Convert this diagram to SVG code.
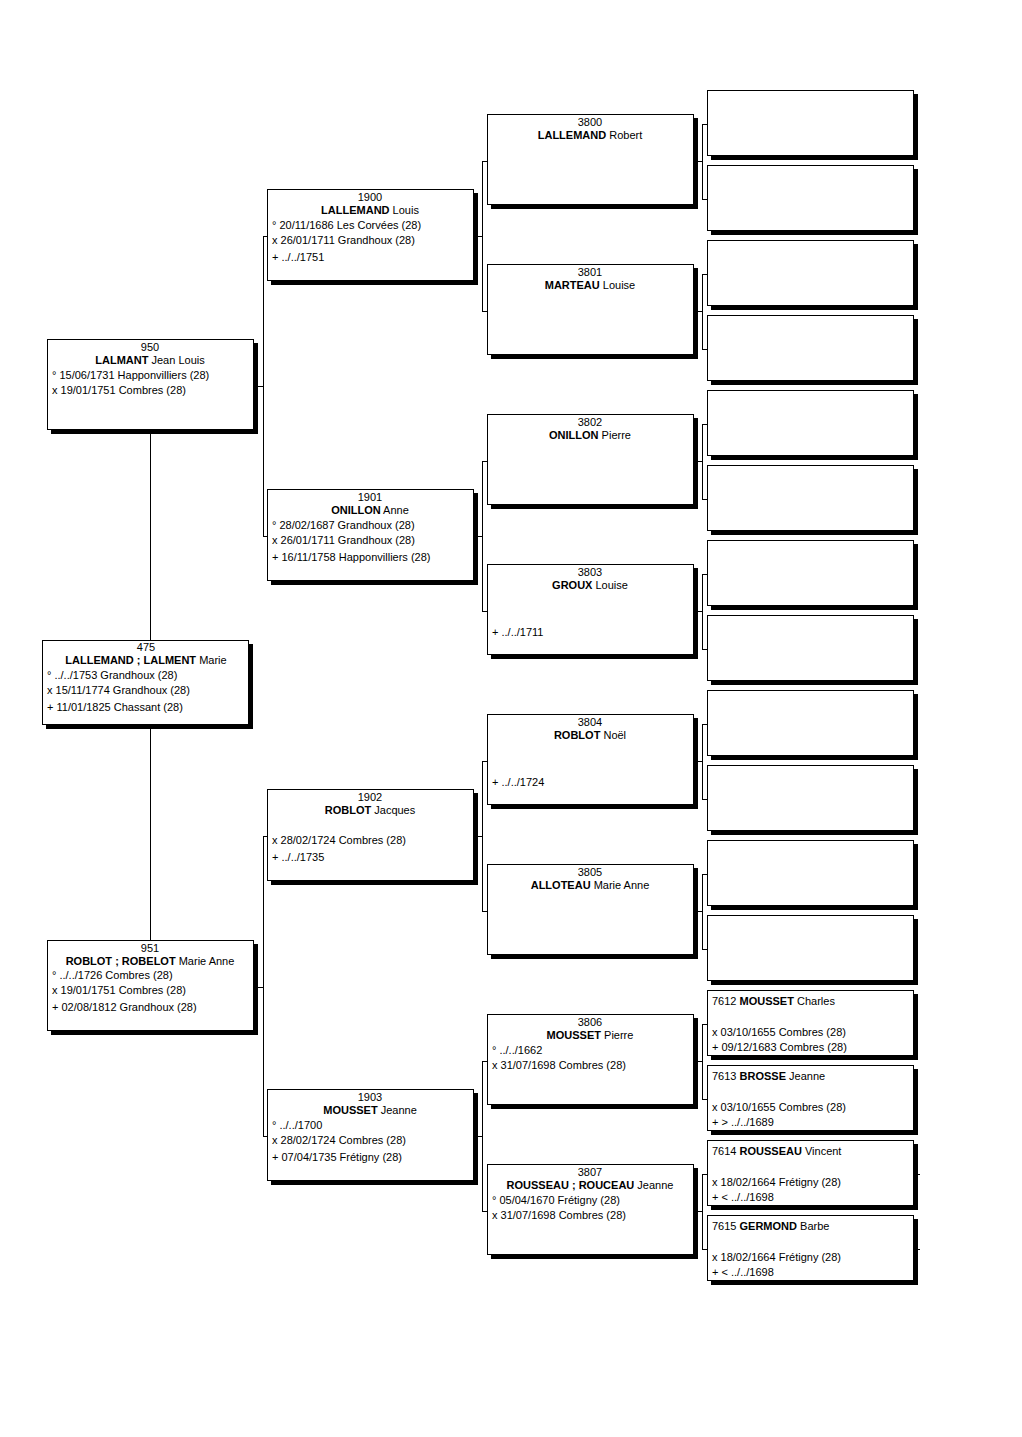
<svg xmlns="http://www.w3.org/2000/svg" width="1022" height="1437" viewBox="0 0 1022 1437">
<style>
.bg{fill:#fff}
.sh{fill:#000}
.bx{fill:#fff;stroke:#000;stroke-width:1}
.ln{fill:none;stroke:#000;stroke-width:1}
text{font-family:"Liberation Sans",Arial,sans-serif;font-size:11px;fill:#000}
.c{text-anchor:middle}
.b{font-weight:bold}
</style>
<rect class="bg" x="0" y="0" width="1022" height="1437"/>
<g id="connectors">
<path class="ln" d="M150.5 429V640M150.5 724V940"/>
<path class="ln" d="M253 386.5H263.5M263.5 236V537M263.5 236.5H267M263.5 536.5H267"/>
<path class="ln" d="M253 987.5H263.5M263.5 836V1137M263.5 836.5H267M263.5 1136.5H267"/>
<path class="ln" d="M473 236.5H482.5M482.5 161V312M482.5 161.5H487M482.5 311.5H487"/>
<path class="ln" d="M473 536.5H482.5M482.5 461V612M482.5 461.5H487M482.5 611.5H487"/>
<path class="ln" d="M473 836.5H482.5M482.5 761V912M482.5 761.5H487M482.5 911.5H487"/>
<path class="ln" d="M473 1136.5H482.5M482.5 1061V1212M482.5 1061.5H487M482.5 1211.5H487"/>
<path class="ln" d="M693 161.5H702.5M702.5 124V200M702.5 124.5H707M702.5 199.5H707"/>
<path class="ln" d="M693 311.5H702.5M702.5 274V350M702.5 274.5H707M702.5 349.5H707"/>
<path class="ln" d="M693 461.5H702.5M702.5 424V500M702.5 424.5H707M702.5 499.5H707"/>
<path class="ln" d="M693 611.5H702.5M702.5 574V650M702.5 574.5H707M702.5 649.5H707"/>
<path class="ln" d="M693 761.5H702.5M702.5 724V800M702.5 724.5H707M702.5 799.5H707"/>
<path class="ln" d="M693 911.5H702.5M702.5 874V950M702.5 874.5H707M702.5 949.5H707"/>
<path class="ln" d="M693 1061.5H702.5M702.5 1024V1100M702.5 1024.5H707M702.5 1099.5H707"/>
<path class="ln" d="M693 1211.5H702.5M702.5 1174V1250M702.5 1174.5H707M702.5 1249.5H707"/>
<path class="ln" d="M913 1174.5H920M913 1249.5H920"/>
</g>

<g id="n950">
<rect class="sh" x="51" y="343" width="207" height="91"/>
<rect class="bx" x="47.5" y="339.5" width="206" height="90"/>
<text class="c" x="150" y="351">950</text>
<text class="c" x="150" y="364"><tspan class="b">LALMANT</tspan> Jean Louis</text>
<text x="52" y="379">° 15/06/1731 Happonvilliers (28)</text>
<text x="52" y="394">x 19/01/1751 Combres (28)</text>
</g>
<g id="n475">
<rect class="sh" x="46" y="644" width="207" height="85"/>
<rect class="bx" x="42.5" y="640.5" width="206" height="84"/>
<text class="c" x="146" y="651">475</text>
<text class="c" x="146" y="664"><tspan class="b">LALLEMAND ; LALMENT</tspan> Marie</text>
<text x="47" y="679">° ../../1753 Grandhoux (28)</text>
<text x="47" y="694">x 15/11/1774 Grandhoux (28)</text>
<text x="47" y="711">+ 11/01/1825 Chassant (28)</text>
</g>
<g id="n951">
<rect class="sh" x="51" y="944" width="207" height="91"/>
<rect class="bx" x="47.5" y="940.5" width="206" height="90"/>
<text class="c" x="150" y="952">951</text>
<text class="c" x="150" y="965"><tspan class="b">ROBLOT ; ROBELOT</tspan> Marie Anne</text>
<text x="52" y="979">° ../../1726 Combres (28)</text>
<text x="52" y="994">x 19/01/1751 Combres (28)</text>
<text x="52" y="1011">+ 02/08/1812 Grandhoux (28)</text>
</g>

<g id="n1900">
<rect class="sh" x="271" y="193" width="207" height="92"/>
<rect class="bx" x="267.5" y="189.5" width="206" height="91"/>
<text class="c" x="370" y="201">1900</text>
<text class="c" x="370" y="214"><tspan class="b">LALLEMAND</tspan> Louis</text>
<text x="272" y="229">° 20/11/1686 Les Corvées (28)</text>
<text x="272" y="244">x 26/01/1711 Grandhoux (28)</text>
<text x="272" y="261">+ ../../1751</text>
</g>
<g id="n1901">
<rect class="sh" x="271" y="493" width="207" height="92"/>
<rect class="bx" x="267.5" y="489.5" width="206" height="91"/>
<text class="c" x="370" y="501">1901</text>
<text class="c" x="370" y="514"><tspan class="b">ONILLON</tspan> Anne</text>
<text x="272" y="529">° 28/02/1687 Grandhoux (28)</text>
<text x="272" y="544">x 26/01/1711 Grandhoux (28)</text>
<text x="272" y="561">+ 16/11/1758 Happonvilliers (28)</text>
</g>
<g id="n1902">
<rect class="sh" x="271" y="793" width="207" height="92"/>
<rect class="bx" x="267.5" y="789.5" width="206" height="91"/>
<text class="c" x="370" y="801">1902</text>
<text class="c" x="370" y="814"><tspan class="b">ROBLOT</tspan> Jacques</text>
<text x="272" y="844">x 28/02/1724 Combres (28)</text>
<text x="272" y="861">+ ../../1735</text>
</g>
<g id="n1903">
<rect class="sh" x="271" y="1093" width="207" height="92"/>
<rect class="bx" x="267.5" y="1089.5" width="206" height="91"/>
<text class="c" x="370" y="1101">1903</text>
<text class="c" x="370" y="1114"><tspan class="b">MOUSSET</tspan> Jeanne</text>
<text x="272" y="1129">° ../../1700</text>
<text x="272" y="1144">x 28/02/1724 Combres (28)</text>
<text x="272" y="1161">+ 07/04/1735 Frétigny (28)</text>
</g>

<g id="n3800">
<rect class="sh" x="491" y="118" width="207" height="91"/>
<rect class="bx" x="487.5" y="114.5" width="206" height="90"/>
<text class="c" x="590" y="126">3800</text>
<text class="c" x="590" y="139"><tspan class="b">LALLEMAND</tspan> Robert</text>
</g>
<g id="n3801">
<rect class="sh" x="491" y="268" width="207" height="91"/>
<rect class="bx" x="487.5" y="264.5" width="206" height="90"/>
<text class="c" x="590" y="276">3801</text>
<text class="c" x="590" y="289"><tspan class="b">MARTEAU</tspan> Louise</text>
</g>
<g id="n3802">
<rect class="sh" x="491" y="418" width="207" height="91"/>
<rect class="bx" x="487.5" y="414.5" width="206" height="90"/>
<text class="c" x="590" y="426">3802</text>
<text class="c" x="590" y="439"><tspan class="b">ONILLON</tspan> Pierre</text>
</g>
<g id="n3803">
<rect class="sh" x="491" y="568" width="207" height="91"/>
<rect class="bx" x="487.5" y="564.5" width="206" height="90"/>
<text class="c" x="590" y="576">3803</text>
<text class="c" x="590" y="589"><tspan class="b">GROUX</tspan> Louise</text>
<text x="492" y="636">+ ../../1711</text>
</g>
<g id="n3804">
<rect class="sh" x="491" y="718" width="207" height="91"/>
<rect class="bx" x="487.5" y="714.5" width="206" height="90"/>
<text class="c" x="590" y="726">3804</text>
<text class="c" x="590" y="739"><tspan class="b">ROBLOT</tspan> Noël</text>
<text x="492" y="786">+ ../../1724</text>
</g>
<g id="n3805">
<rect class="sh" x="491" y="868" width="207" height="91"/>
<rect class="bx" x="487.5" y="864.5" width="206" height="90"/>
<text class="c" x="590" y="876">3805</text>
<text class="c" x="590" y="889"><tspan class="b">ALLOTEAU</tspan> Marie Anne</text>
</g>
<g id="n3806">
<rect class="sh" x="491" y="1018" width="207" height="91"/>
<rect class="bx" x="487.5" y="1014.5" width="206" height="90"/>
<text class="c" x="590" y="1026">3806</text>
<text class="c" x="590" y="1039"><tspan class="b">MOUSSET</tspan> Pierre</text>
<text x="492" y="1054">° ../../1662</text>
<text x="492" y="1069">x 31/07/1698 Combres (28)</text>
</g>
<g id="n3807">
<rect class="sh" x="491" y="1168" width="207" height="91"/>
<rect class="bx" x="487.5" y="1164.5" width="206" height="90"/>
<text class="c" x="590" y="1176">3807</text>
<text class="c" x="590" y="1189"><tspan class="b">ROUSSEAU ; ROUCEAU</tspan> Jeanne</text>
<text x="492" y="1204">° 05/04/1670 Frétigny (28)</text>
<text x="492" y="1219">x 31/07/1698 Combres (28)</text>
</g>

<g id="n7600"><rect class="sh" x="711" y="94" width="207" height="66"/><rect class="bx" x="707.5" y="90.5" width="206" height="65"/></g>
<g id="n7601"><rect class="sh" x="711" y="169" width="207" height="66"/><rect class="bx" x="707.5" y="165.5" width="206" height="65"/></g>
<g id="n7602"><rect class="sh" x="711" y="244" width="207" height="66"/><rect class="bx" x="707.5" y="240.5" width="206" height="65"/></g>
<g id="n7603"><rect class="sh" x="711" y="319" width="207" height="66"/><rect class="bx" x="707.5" y="315.5" width="206" height="65"/></g>
<g id="n7604"><rect class="sh" x="711" y="394" width="207" height="66"/><rect class="bx" x="707.5" y="390.5" width="206" height="65"/></g>
<g id="n7605"><rect class="sh" x="711" y="469" width="207" height="66"/><rect class="bx" x="707.5" y="465.5" width="206" height="65"/></g>
<g id="n7606"><rect class="sh" x="711" y="544" width="207" height="66"/><rect class="bx" x="707.5" y="540.5" width="206" height="65"/></g>
<g id="n7607"><rect class="sh" x="711" y="619" width="207" height="66"/><rect class="bx" x="707.5" y="615.5" width="206" height="65"/></g>
<g id="n7608"><rect class="sh" x="711" y="694" width="207" height="66"/><rect class="bx" x="707.5" y="690.5" width="206" height="65"/></g>
<g id="n7609"><rect class="sh" x="711" y="769" width="207" height="66"/><rect class="bx" x="707.5" y="765.5" width="206" height="65"/></g>
<g id="n7610"><rect class="sh" x="711" y="844" width="207" height="66"/><rect class="bx" x="707.5" y="840.5" width="206" height="65"/></g>
<g id="n7611"><rect class="sh" x="711" y="919" width="207" height="66"/><rect class="bx" x="707.5" y="915.5" width="206" height="65"/></g>
<g id="n7612">
<rect class="sh" x="711" y="994" width="207" height="66"/><rect class="bx" x="707.5" y="990.5" width="206" height="65"/>
<text x="712" y="1005">7612 <tspan class="b">MOUSSET</tspan> Charles</text>
<text x="712" y="1036">x 03/10/1655 Combres (28)</text>
<text x="712" y="1051">+ 09/12/1683 Combres (28)</text>
</g>
<g id="n7613">
<rect class="sh" x="711" y="1069" width="207" height="66"/><rect class="bx" x="707.5" y="1065.5" width="206" height="65"/>
<text x="712" y="1080">7613 <tspan class="b">BROSSE</tspan> Jeanne</text>
<text x="712" y="1111">x 03/10/1655 Combres (28)</text>
<text x="712" y="1126">+ &gt; ../../1689</text>
</g>
<g id="n7614">
<rect class="sh" x="711" y="1144" width="207" height="66"/><rect class="bx" x="707.5" y="1140.5" width="206" height="65"/>
<text x="712" y="1155">7614 <tspan class="b">ROUSSEAU</tspan> Vincent</text>
<text x="712" y="1186">x 18/02/1664 Frétigny (28)</text>
<text x="712" y="1201">+ &lt; ../../1698</text>
</g>
<g id="n7615">
<rect class="sh" x="711" y="1219" width="207" height="66"/><rect class="bx" x="707.5" y="1215.5" width="206" height="65"/>
<text x="712" y="1230">7615 <tspan class="b">GERMOND</tspan> Barbe</text>
<text x="712" y="1261">x 18/02/1664 Frétigny (28)</text>
<text x="712" y="1276">+ &lt; ../../1698</text>
</g>
</svg>
